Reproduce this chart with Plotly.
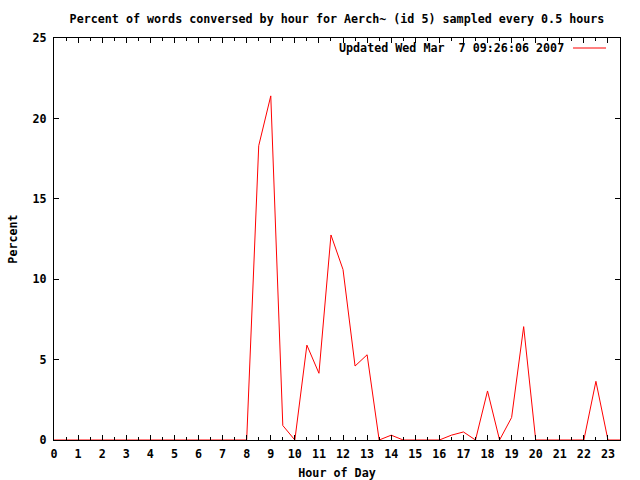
import plotly.graph_objects as go

hours = [0, 0.5, 1, 1.5, 2, 2.5, 3, 3.5, 4, 4.5, 5, 5.5, 6, 6.5, 7, 7.5,
         8, 8.5, 9, 9.5, 10, 10.5, 11, 11.5, 12, 12.5, 13, 13.5, 14, 14.5, 15, 15.5,
         16, 16.5, 17, 17.5, 18, 18.5, 19, 19.5, 20, 20.5, 21, 21.5, 22, 22.5, 23, 23.5]
percent = [0, 0, 0, 0, 0, 0, 0, 0, 0, 0, 0, 0, 0, 0, 0, 0,
           0, 18.3, 21.4, 0.9, 0, 5.9, 4.15, 12.75, 10.6, 4.6, 5.3, 0, 0.3, 0, 0, 0,
           0, 0.3, 0.5, 0, 3.05, 0, 1.4, 7.05, 0, 0, 0, 0, 0, 3.65, 0, 0]
x_ticks = list(range(0, 24))
y_ticks = [0, 5, 10, 15, 20, 25]
series_name = "Updated Wed Mar\u00a0 7 09:26:06 2007"
title = "Percent of words conversed by hour for Aerch~ (id 5) sampled every 0.5 hours"

FONT = "DejaVu Sans Mono"
fsize = 11.7
font = dict(family=FONT, size=fsize, color="black", weight="bold")

fig = go.Figure()
fig.add_trace(go.Scatter(x=hours, y=percent, mode="lines", name=series_name,
                         line=dict(color="#ff0000", width=1), showlegend=False,
                         hoverinfo="skip"))

axis_common = dict(showline=True, linecolor="black", linewidth=1, mirror="allticks",
                   ticks="inside", tickcolor="black", tickwidth=1, showgrid=False,
                   zeroline=False, tickfont=font, automargin=False)

fig.update_layout(
    width=640, height=480,
    margin=dict(l=54, r=20, t=38, b=40),
    paper_bgcolor="white", plot_bgcolor="white",
    title=dict(text=title, font=font, x=0.5, xref="paper", y=1 - 19 / 480,
               yanchor="middle", xanchor="center"),
    xaxis=dict(range=[0, 23.5], tickvals=x_ticks, ticklen=5,
               minor=dict(dtick=0.5, tick0=0, ticks="inside", ticklen=3,
                          tickcolor="black", showgrid=False),
               title=dict(text="Hour of Day", font=font, standoff=8),
               ticklabelstandoff=3,
               **axis_common),
    yaxis=dict(range=[0, 25], tickvals=y_ticks, ticklen=5,
               title=dict(text="Percent", font=font, standoff=12),
               ticklabelstandoff=4,
               **axis_common),
    showlegend=False,
)

# gnuplot-style key: text then line sample
fig.add_annotation(text=series_name, xref="paper", yref="paper",
                   x=(566 - 54) / 566, y=(440 - 48) / 402, xanchor="right", yanchor="middle",
                   showarrow=False, font=font)
fig.add_shape(type="line", xref="paper", yref="paper",
              x0=(573 - 54) / 566, x1=(606 - 54) / 566,
              y0=(440 - 48) / 402, y1=(440 - 48) / 402,
              line=dict(color="#ff0000", width=1))

fig.write_html("out.html", config={"displayModeBar": False},
               post_script="document.body.style.margin='0';")
